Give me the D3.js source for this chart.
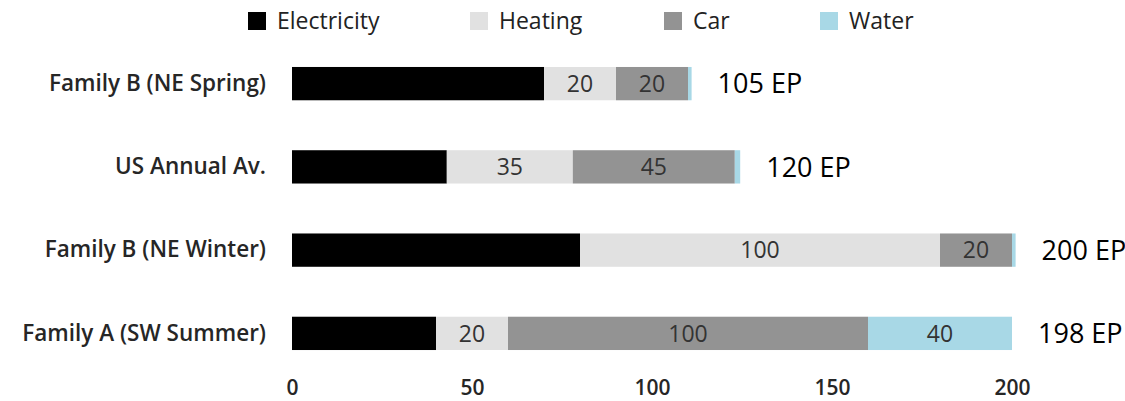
<!DOCTYPE html>
<html>
<head>
<meta charset="utf-8">
<script src="https://cdn.jsdelivr.net/npm/d3@7"></script>
<style>
body { margin: 0; background: #fff; }
svg text { font-family: "Open Sans", Lato, sans-serif; }
</style>
</head>
<body>
<svg id="chart"></svg>
<script>
// данные диаграммы
let categories = ["Family B (NE Spring)", "US Annual Av.", "Family B (NE Winter)", "Family A (SW Summer)"];
let seriesNames = ["Electricity", "Heating", "Car", "Water"];
let electricity = [70, 43, 80, 40];
let heating = [20, 35, 100, 20];
let car = [20, 45, 20, 100];
let water = [1, 1.5, 1, 40];
let totals = ["105 EP", "120 EP", "200 EP", "198 EP"];
let xTicks = [0, 50, 100, 150, 200];
// какие сегменты подписаны
let shownLabels = {
    Heating: [20, 35, 100, 20],
    Car: [20, 45, 20, 100],
    Water: [null, null, null, 40]
};

let colors = {Electricity: "#000000", Heating: "#e1e1e1", Car: "#939393", Water: "#a8d8e6"};

let width = 1125, height = 401;
let marginLeft = 292, marginTop = 42;
let svg = d3.select("#chart").attr("width", width).attr("height", height);

let rows = categories.map(function(c, i) {
    return {category: c, Electricity: electricity[i], Heating: heating[i], Car: car[i], Water: water[i], total: totals[i], idx: i};
});

let scaleX = d3.scaleLinear().domain([0, 200]).range([marginLeft, marginLeft + 720]);
let scaleY = d3.scaleBand().domain(categories).range([marginTop, marginTop + 333]).paddingInner(0.6).paddingOuter(0.3);

let stacked = d3.stack().keys(seriesNames)(rows);

// сегменты
let groups = svg.append("g").selectAll("g")
    .data(stacked)
    .enter().append("g")
    .attr("fill", d => colors[d.key]);

groups.selectAll("rect")
    .data(d => d.map(p => ({key: d.key, p: p})))
    .enter().append("rect")
    .attr("x", d => scaleX(d.p[0]))
    .attr("y", d => scaleY(d.p.data.category))
    .attr("width", d => scaleX(d.p[1]) - scaleX(d.p[0]))
    .attr("height", scaleY.bandwidth());

// подписи внутри сегментов
groups.selectAll("text")
    .data(d => d.map(p => ({key: d.key, p: p})).filter(d => shownLabels[d.key] && shownLabels[d.key][d.p.data.idx] != null))
    .enter().append("text")
    .attr("x", d => (scaleX(d.p[0]) + scaleX(d.p[1])) / 2)
    .attr("y", d => scaleY(d.p.data.category) + scaleY.bandwidth() / 2)
    .attr("dy", "0.36em")
    .attr("text-anchor", "middle")
    .attr("fill", "#333")
    .style("font-size", "23px")
    .text(d => shownLabels[d.key][d.p.data.idx]);

// итоговые подписи справа
svg.append("g").selectAll("text")
    .data(rows)
    .enter().append("text")
    .attr("x", d => scaleX(d.Electricity + d.Heating + d.Car + d.Water) + 26)
    .attr("y", d => scaleY(d.category) + scaleY.bandwidth() / 2)
    .attr("dy", "0.36em")
    .attr("fill", "#000")
    .style("font-size", "27px")
    .text(d => d.total);

// ось Y
let axisY = d3.axisLeft(scaleY).tickSize(0).tickPadding(26);
svg.append("g")
    .attr("transform", `translate(${marginLeft}, 0)`)
    .call(axisY)
    .call(g => g.select(".domain").remove())
    .selectAll("text")
    .style("font-size", "22.5px")
    .style("font-weight", "600")
    .attr("fill", "#262626");

// ось X
let axisX = d3.axisBottom(scaleX).tickValues(xTicks).tickSize(0).tickPadding(0);
svg.append("g")
    .attr("transform", `translate(0, 380)`)
    .call(axisX)
    .call(g => g.select(".domain").remove())
    .selectAll("text")
    .style("font-size", "21px")
    .style("font-weight", "600")
    .attr("fill", "#262626");

// легенда
let legendX = [248, 470, 664, 820];
let legend = svg.append("g").selectAll("g")
    .data(seriesNames)
    .enter().append("g")
    .attr("transform", (d, i) => `translate(${legendX[i]}, 12)`);
legend.append("rect")
    .attr("width", 18).attr("height", 18)
    .attr("fill", d => colors[d]);
legend.append("text")
    .attr("x", 29).attr("y", 9).attr("dy", "0.36em")
    .style("font-size", "23px")
    .attr("fill", "#222")
    .text(d => d);
</script>
</body>
</html>
